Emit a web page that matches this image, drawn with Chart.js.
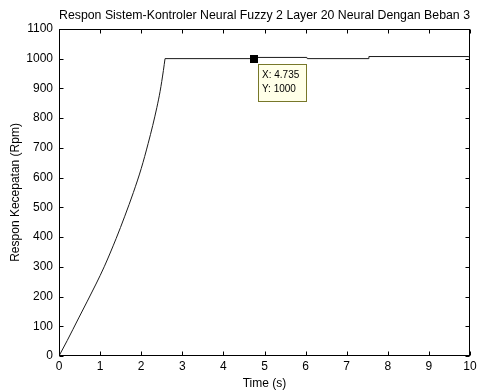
<!DOCTYPE html>
<html>
<head>
<meta charset="utf-8">
<script src="https://cdn.jsdelivr.net/npm/chart.js@4"></script>
<style>
  html, body { margin: 0; padding: 0; background: #fff; }
  #wrap { width: 480px; height: 391px; }
</style>
</head>
<body>
<div id="wrap"><canvas id="c" width="480" height="391"></canvas></div>
<script>
// Speed response (rpm) over time (s): rise phase
const riseTime = [0, 0.2, 0.48, 0.9, 1.1, 1.39, 1.6, 1.81, 2.0, 2.17, 2.28, 2.38, 2.46, 2.54, 2.58];
const riseRpm  = [0, 52, 128, 242, 300, 395, 470, 550, 630, 715, 775, 835, 890, 960, 1000];

// Steady-state phase under load
const holdTime = [2.58, 4.72, 4.75, 6.03, 6.04, 7.52, 7.54, 9.97, 10];
const holdRpm  = [1000, 1000, 1004, 1004, 1000, 1000, 1007, 1007, 1000];

// Data cursor
const tipX = 4.735;
const tipY = 1000;

const xTicks = [0, 1, 2, 3, 4, 5, 6, 7, 8, 9, 10];
const yTicks = [0, 100, 200, 300, 400, 500, 600, 700, 800, 900, 1000, 1100];

const FONT = "'Liberation Sans', Arial, Helvetica, sans-serif";

const toPoints = (xs, ys) => xs.map((t, i) => ({ x: t, y: ys[i] }));

// Box frame with inward tick marks on all four sides, plus the data tip
const matlabAxes = {
  id: 'matlabAxes',
  afterDraw(chart) {
    const { ctx, chartArea: a, scales: { x, y } } = chart;
    ctx.save();
    ctx.strokeStyle = '#000';
    ctx.lineWidth = 1;
    const L = Math.round(a.left) + 0.5, R = Math.round(a.right) - 0.5;
    const T = Math.round(a.top) + 0.5, B = Math.round(a.bottom) - 0.5;
    ctx.strokeRect(L, T, R - L, B - T);
    const tl = 4;
    ctx.beginPath();
    xTicks.forEach(v => {
      const px = Math.round(x.getPixelForValue(v)) + 0.5;
      ctx.moveTo(px, B); ctx.lineTo(px, B - tl);
      ctx.moveTo(px, T); ctx.lineTo(px, T + tl);
    });
    yTicks.forEach(v => {
      const py = Math.round(y.getPixelForValue(v)) + 0.5;
      ctx.moveTo(L, py); ctx.lineTo(L + tl, py);
      ctx.moveTo(R, py); ctx.lineTo(R - tl, py);
    });
    ctx.stroke();

    // data tip marker
    const mx = x.getPixelForValue(tipX), my = y.getPixelForValue(tipY);
    ctx.fillStyle = '#000';
    ctx.fillRect(Math.round(mx - 4), Math.round(my - 4), 8, 8);

    // data tip box
    const bx = Math.round(mx + 4) + 0.5, by = Math.round(my + 5) + 0.5;
    const bw = 48, bh = 37;
    ctx.fillStyle = '#ffffe8';
    ctx.fillRect(bx, by, bw, bh);
    ctx.strokeStyle = '#77772a';
    ctx.strokeRect(bx, by, bw, bh);
    ctx.fillStyle = '#000';
    ctx.font = '10px ' + FONT;
    ctx.textAlign = 'left';
    ctx.textBaseline = 'middle';
    ctx.fillText('X: ' + tipX, bx + 3.5, by + 11);
    ctx.fillText('Y: ' + tipY, bx + 3.5, by + 25);
    ctx.restore();
  }
};

const lineStyle = { showLine: true, borderColor: '#1a1a1a', borderWidth: 1, pointRadius: 0, fill: false };

new Chart(document.getElementById('c'), {
  type: 'scatter',
  data: {
    datasets: [
      Object.assign({ data: toPoints(riseTime, riseRpm), cubicInterpolationMode: 'monotone' }, lineStyle),
      Object.assign({ data: toPoints(holdTime, holdRpm), tension: 0 }, lineStyle)
    ]
  },
  options: {
    responsive: false,
    animation: false,
    events: [],
    layout: { padding: { left: 0, right: 10, top: 0, bottom: 0 } },
    plugins: {
      legend: { display: false },
      tooltip: { enabled: false },
      title: {
        display: true,
        fullSize: false,
        text: 'Respon Sistem-Kontroler Neural Fuzzy 2 Layer 20 Neural Dengan Beban 3',
        color: '#000',
        font: { family: FONT, size: 12.4, weight: 'normal' },
        padding: { top: 8, bottom: 6 }
      }
    },
    scales: {
      x: {
        type: 'linear',
        min: 0, max: 10,
        afterBuildTicks: s => { s.ticks = xTicks.map(v => ({ value: v })); },
        afterFit: s => { s.height = 35; },
        grid: { display: false, drawTicks: false, tickLength: 0 },
        border: { display: false },
        ticks: { color: '#000', font: { family: FONT, size: 12 }, padding: 3, maxRotation: 0, autoSkip: false,
                 callback: v => String(v) },
        title: {
          display: true, text: 'Time (s)', color: '#000',
          font: { family: FONT, size: 12 }, padding: { top: 0, bottom: 0 }
        }
      },
      y: {
        type: 'linear',
        min: 0, max: 1100,
        afterBuildTicks: s => { s.ticks = yTicks.map(v => ({ value: v })); },
        afterFit: s => { s.width = 59; },
        grid: { display: false, drawTicks: false, tickLength: 0 },
        border: { display: false },
        ticks: { color: '#000', font: { family: FONT, size: 12 }, padding: 6, autoSkip: false,
                 callback: v => String(v) },
        title: {
          display: true, text: 'Respon Kecepatan (Rpm)', color: '#000',
          font: { family: FONT, size: 12 }, padding: { top: 8, bottom: 0 }
        }
      }
    }
  },
  plugins: [matlabAxes]
});
</script>
</body>
</html>
